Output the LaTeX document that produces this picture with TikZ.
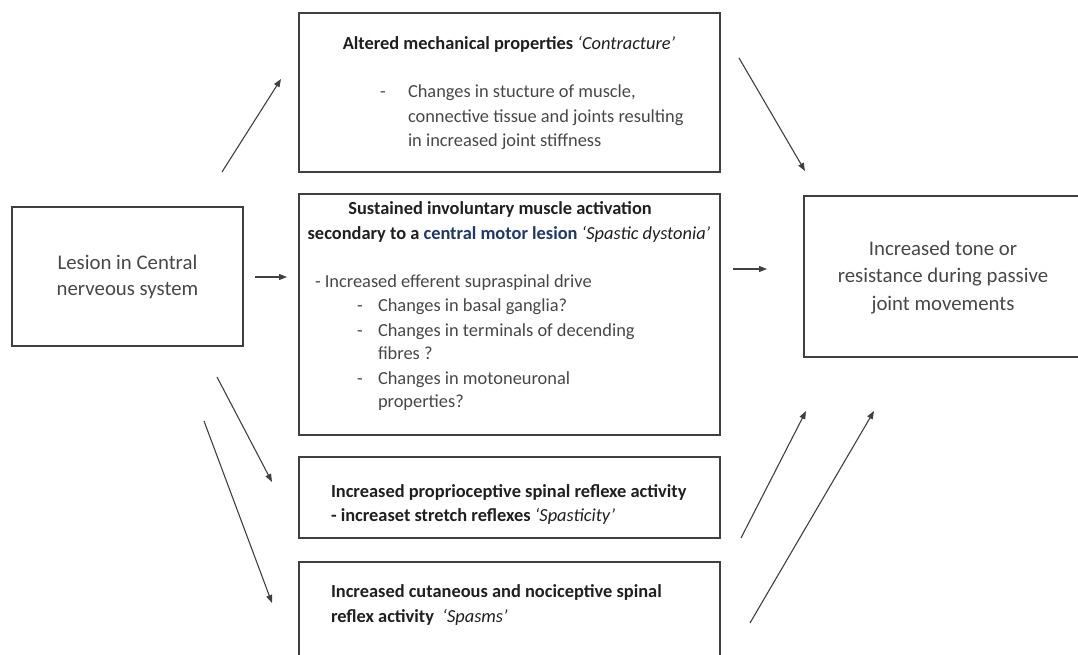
\documentclass[tikz,border=0pt]{standalone}
\usepackage{fontspec}
\setmainfont{Carlito}
\usetikzlibrary{arrows.meta}
\newlength{\du}
\setlength{\du}{0.75pt}
\definecolor{dialinecolor}{rgb}{0.250000, 0.250000, 0.250000}
\definecolor{diatextcolor}{rgb}{0.280000, 0.280000, 0.280000}
\definecolor{diaboldcolor}{rgb}{0.120000, 0.120000, 0.120000}
\definecolor{dialinkcolor}{rgb}{0.120000, 0.220000, 0.420000}
\tikzset{
  diabox/.style={draw=dialinecolor,line width=1.3\du,inner sep=0pt,outer sep=0pt},
  diatext/.style={anchor=base west,inner sep=0pt,outer sep=0pt,color=diatextcolor,
    font=\fontsize{13.8}{16}\selectfont},
  diamid/.style={diatext,anchor=base,font=\fontsize{15.6}{18}\selectfont},
  diabold/.style={diatext,color=diaboldcolor,font=\fontsize{13.8}{16}\selectfont\bfseries},
  diaarrow/.style={draw=dialinecolor,line width=1.1\du,-{Triangle[length=6pt,width=4.5pt]}}
}
\begin{document}
\begin{tikzpicture}
\pgftransformyscale{-1.000000}
\useasboundingbox (0\du,0\du) rectangle (1078\du,655\du);
\clip (0\du,0\du) rectangle (1078\du,655\du);
% boxes
\node[diabox,minimum width=231\du,minimum height=139\du] (lesion) at (127.5\du,276.5\du) {};
\node[diabox,minimum width=421\du,minimum height=159\du] (contracture) at (509.5\du,92.5\du) {};
\node[diabox,minimum width=421\du,minimum height=241\du] (dystonia) at (509.5\du,314.5\du) {};
\node[diabox,minimum width=421\du,minimum height=81\du] (spasticity) at (509.5\du,497.5\du) {};
\node[diabox,minimum width=421\du,minimum height=138\du] (spasms) at (509.5\du,631\du) {};
\node[diabox,minimum width=286\du,minimum height=161\du] (tone) at (947\du,276.5\du) {};
% lesion
\node[diamid] (lesionA) at (127.5\du,270\du){Lesion in Central};
\node[diamid] (lesionB) at (127.5\du,296\du){nerveous system};
% contracture
\node[diabold,anchor=base] (conhead) at (509\du,50\du){Altered mechanical properties \textmd{\itshape ‘Contracture’}};
\node[diatext] (condash) at (380\du,98\du){-};
\node[diatext] (conA) at (408\du,98\du){Changes in stucture of muscle,};
\node[diatext] (conB) at (408\du,123\du){connective tissue and joints resulting};
\node[diatext] (conC) at (408\du,147\du){in increased joint stiffness};
% dystonia
\node[diabold,anchor=base] (dyshead) at (500\du,215\du){Sustained involuntary muscle activation};
\node[diabold,anchor=base] (dyshead2) at (509\du,240\du){secondary to a \textcolor{dialinkcolor}{central motor lesion} \textmd{\itshape ‘Spastic dystonia’}};
\node[diatext] (dysA) at (315\du,288\du){- Increased efferent supraspinal drive};
\node[diatext] (dysdashB) at (357\du,312\du){-};
\node[diatext] (dysB) at (378\du,312\du){Changes in basal ganglia?};
\node[diatext] (dysdashC) at (357\du,337\du){-};
\node[diatext] (dysC) at (378\du,337\du){Changes in terminals of decending};
\node[diatext] (dysD) at (378\du,360\du){fibres ?};
\node[diatext] (dysdashE) at (357\du,385\du){-};
\node[diatext] (dysE) at (378\du,385\du){Changes in motoneuronal};
\node[diatext] (dysF) at (378\du,408\du){properties?};
% spasticity
\node[diabold] (spaA) at (331\du,498\du){Increased proprioceptive spinal reflexe activity};
\node[diabold] (spaB) at (331\du,522\du){- increaset stretch reflexes \textmd{\itshape ‘Spasticity’}};
% spasms
\node[diabold] (spsA) at (331\du,597\du){Increased cutaneous and nociceptive spinal};
\node[diabold] (spsB) at (331\du,622\du){reflex activity\ \ \textmd{\itshape ‘Spasms’}};
% tone
\node[diamid] (toneA) at (943\du,256\du){Increased tone or};
\node[diamid] (toneB) at (943\du,283\du){resistance during passive};
\node[diamid] (toneC) at (943\du,311\du){joint movements};
% arrows
\coordinate (lesconS) at (222\du,172\du);
\coordinate (lesconE) at (281\du,79\du);
\coordinate (contonS) at (739\du,58\du);
\coordinate (contonE) at (805\du,171\du);
\coordinate (lesdysS) at (255\du,277\du);
\coordinate (lesdysE) at (287\du,277\du);
\coordinate (dystonS) at (733\du,269\du);
\coordinate (dystonE) at (767\du,269\du);
\coordinate (lesspaS) at (217\du,377\du);
\coordinate (lesspaE) at (272\du,482\du);
\coordinate (lesspsS) at (204\du,421\du);
\coordinate (lesspsE) at (272\du,603\du);
\coordinate (spatonS) at (741\du,538\du);
\coordinate (spatonE) at (806\du,411\du);
\coordinate (spstonS) at (750\du,623\du);
\coordinate (spstonE) at (874\du,411\du);
\draw[diaarrow] (lesconS)--(lesconE);
\draw[diaarrow] (contonS)--(contonE);
\draw[diaarrow] (lesdysS)--(lesdysE);
\draw[diaarrow] (dystonS)--(dystonE);
\draw[diaarrow] (lesspaS)--(lesspaE);
\draw[diaarrow] (lesspsS)--(lesspsE);
\draw[diaarrow] (spatonS)--(spatonE);
\draw[diaarrow] (spstonS)--(spstonE);
\end{tikzpicture}
\end{document}
